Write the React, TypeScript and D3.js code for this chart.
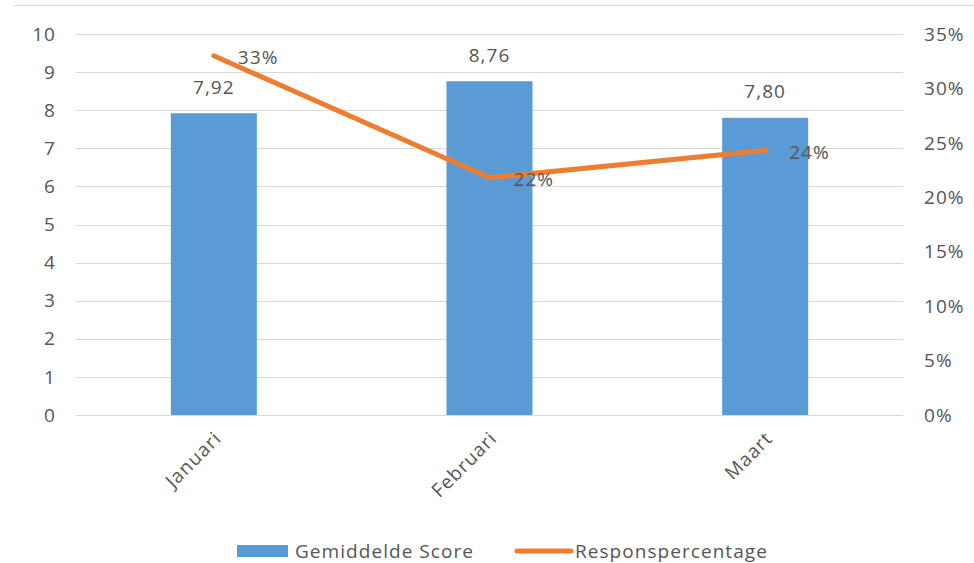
import React from "react";
import * as d3 from "d3";

const categories = ["Januari", "Februari", "Maart"];
const scores = [7.92, 8.76, 7.8];
const scoreLabels = ["7,92", "8,76", "7,80"];
const respons = [0.33, 0.218, 0.243];
const responsLabels = ["33%", "22%", "24%"];
const leftTicks = [0, 1, 2, 3, 4, 5, 6, 7, 8, 9, 10];
const rightTicks = [0, 0.05, 0.1, 0.15, 0.2, 0.25, 0.3, 0.35];

const W = 974;
const H = 563;
const FONT = "'Open Sans', 'Noto Sans', sans-serif";
const TXT = "#555555";
const BLUE = "#5B9BD5";
const ORANGE = "#ED7D31";
const FS = 19;
const LS = 1.05;

export default function App() {
  const x = d3.scaleBand<string>().domain(categories).range([76, 903]).paddingInner(0).paddingOuter(0);
  const yL = d3.scaleLinear().domain([0, 10]).range([415, 34]);
  const yR = d3.scaleLinear().domain([0, 0.35]).range([415, 34]);
  const bw = x.bandwidth() * 0.312;
  const cx = (c: string) => (x(c) as number) + x.bandwidth() / 2;
  const line = d3
    .line<number>()
    .x((_, i) => cx(categories[i]))
    .y((d) => yR(d));
  const txt = { fontSize: FS, fill: TXT, letterSpacing: LS } as const;
  return (
    <svg width={W} height={H} style={{ position: "absolute", left: 0, top: 0, background: "#fff" }} fontFamily={FONT}>
      <line x1={14} x2={974} y1={5.5} y2={5.5} stroke="#D9D9D9" strokeWidth={1} />
      {leftTicks.map((t) => (
        <g key={t}>
          <line x1={76} x2={903} y1={Math.round(yL(t)) + 0.5} y2={Math.round(yL(t)) + 0.5} stroke="#D9D9D9" strokeWidth={1} />
          <text x={56} y={yL(t)} dy="0.35em" textAnchor="end" {...txt}>
            {t}
          </text>
        </g>
      ))}
      {rightTicks.map((t) => (
        <text key={t} x={924} y={yR(t)} dy="0.35em" textAnchor="start" {...txt}>
          {d3.format(".0%")(t)}
        </text>
      ))}
      {categories.map((c, i) => (
        <g key={c}>
          <rect x={cx(c) - bw / 2} y={yL(scores[i])} width={bw} height={yL(0) - yL(scores[i])} fill={BLUE} />
          <text x={cx(c)} y={yL(scores[i]) - 26} dy="0.35em" textAnchor="middle" {...txt}>
            {scoreLabels[i]}
          </text>
          <text transform={`translate(${cx(c) + 4},${435}) rotate(-45)`} textAnchor="end" dy="0.35em" {...txt}>
            {c}
          </text>
        </g>
      ))}
      <path d={line(respons) || ""} fill="none" stroke={ORANGE} strokeWidth={5} strokeLinecap="round" strokeLinejoin="round" />
      {categories.map((c, i) => (
        <text key={c} x={cx(c) + 24} y={yR(respons[i]) + 2} dy="0.35em" textAnchor="start" {...txt}>
          {responsLabels[i]}
        </text>
      ))}
      <rect x={237} y={545} width={51} height={12} fill={BLUE} />
      <text x={295} y={551} dy="0.35em" {...txt}>
        Gemiddelde Score
      </text>
      <line x1={517} x2={571} y1={551} y2={551} stroke={ORANGE} strokeWidth={5} strokeLinecap="round" />
      <text x={575} y={551} dy="0.35em" {...txt}>
        Responspercentage
      </text>
    </svg>
  );
}
